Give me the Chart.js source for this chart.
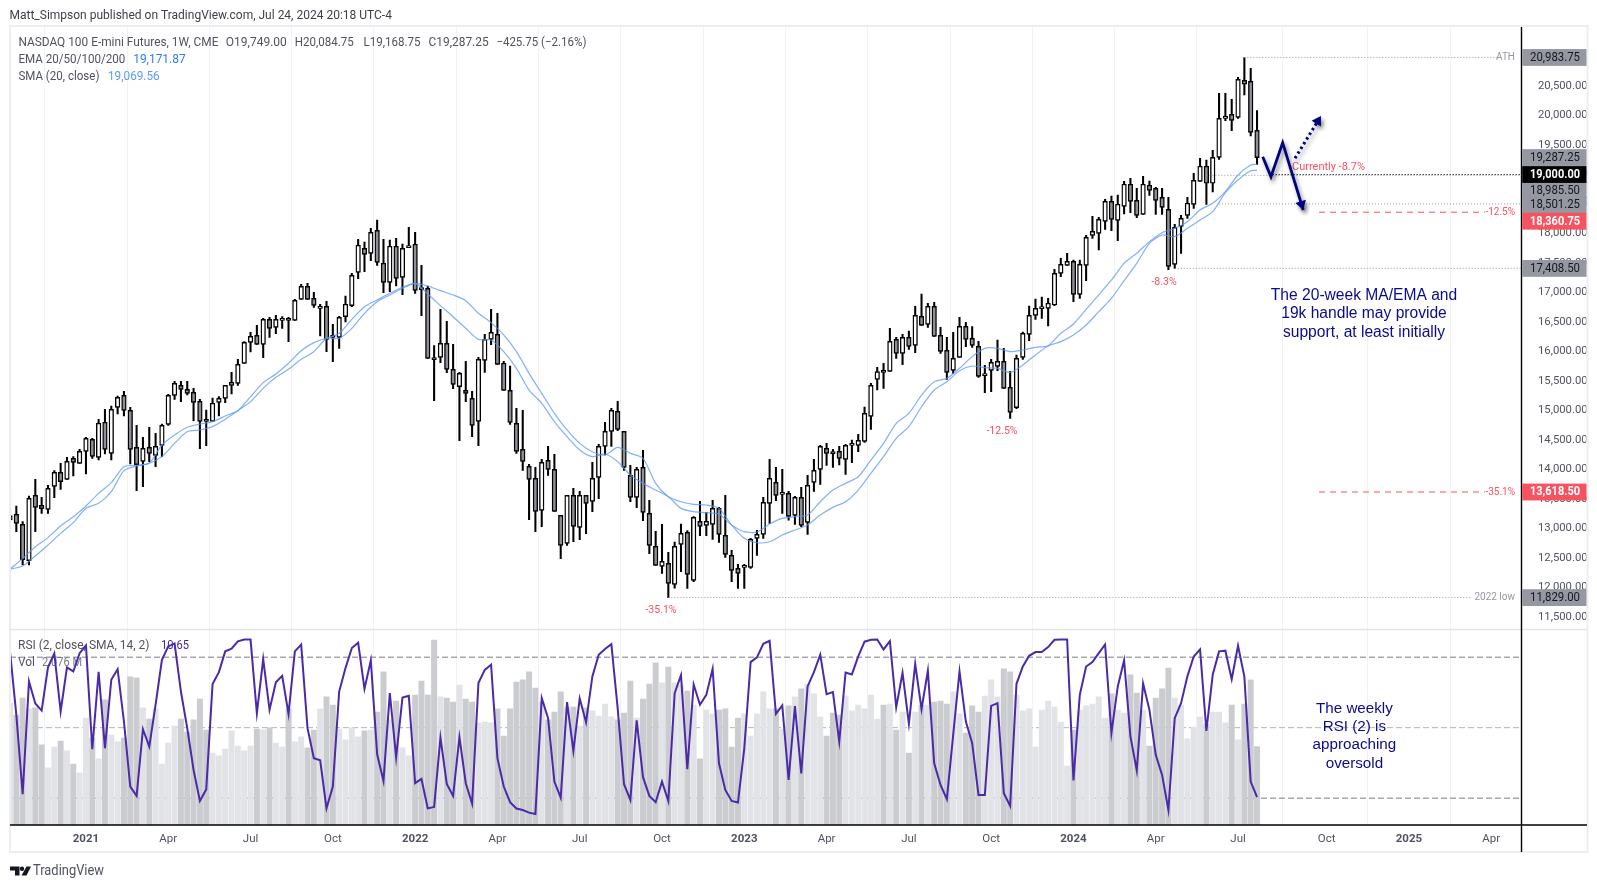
<!DOCTYPE html>
<html><head><meta charset="utf-8">
<style>html,body{margin:0;padding:0;background:#fff}canvas{display:block}</style>
<script src="https://cdn.jsdelivr.net/npm/chart.js@4"></script>
</head><body><canvas id="c" width="1597" height="888"></canvas>
<script>
// weekly bars, index 0 = week of 12 Oct 2020, index 197 = week of 22 Jul 2024
const opens=[13144,13240,13070,12455,13562,13393,13325,13715,13952,13833,14189,14105,14308,14511,14206,14800,14274,15054,15257,15003,14376,14138,14376,14240,14410,14766,15257,15427,15359,15308,15155,14833,14816,15138,15206,15427,15460,15800,16155,16274,16122,16545,16410,16528,16562,16528,16884,17105,16901,16732,16766,16257,16240,16590,16777,17342,17749,17664,18054,17495,17172,17783,17257,17760,17817,17054,17071,15879,15901,16138,15698,15404,15342,15206,14816,15850,16206,16291,15800,15342,14782,14342,14054,13850,13308,14155,14003,13223,12748,13562,13020,13562,13460,13867,14393,14647,14986,14647,13901,13528,14037,13257,12698,12358,12409,12053,12731,12934,12121,13121,13053,13070,13341,12884,12545,12324,12341,12341,12833,12900,13426,13782,13578,13595,13223,13528,13104,13782,14002,14358,14279,14307,14172,14409,14409,14477,14901,15528,15680,15663,16206,15968,16240,16104,16596,16460,16765,16274,16019,15680,15901,16426,16223,16087,15590,15681,15749,15833,15393,15048,15901,16291,16613,16726,16732,16788,17325,17461,17528,16969,17461,17969,18003,18206,18545,18223,18461,18834,18562,18325,18817,18766,18613,18410,17477,18122,18308,18495,18884,19139,18851,19291,19952,20020,19969,20596,20579,19749];
const highs=[13681,13381,13116,13551,13833,13528,13732,13980,14105,14206,14217,14342,14545,14528,14850,15020,15076,15246,15325,15054,14749,14545,14715,14613,14771,15274,15494,15494,15494,15376,15189,15008,15212,15234,15427,15647,15867,16167,16325,16444,16562,16579,16613,16590,16579,16884,17139,17155,17003,16800,16850,16461,16596,16941,17325,17901,17856,18088,18229,17901,17890,17918,17822,18105,18020,17461,17110,16099,16715,16511,16122,15647,15833,15325,15901,16291,16715,16647,15833,15754,15037,15003,14088,14037,14172,14393,14257,13223,13562,13681,13630,13562,14121,14427,14799,15037,15155,14647,14071,14037,14325,13477,12952,13070,12596,12771,13076,12963,13200,13460,13273,13477,13358,13562,12629,12392,12392,12833,12968,13528,14172,14036,14002,13629,13545,13697,13901,14172,14409,14443,14341,14392,14426,14499,14595,15059,15460,15731,15799,16392,16240,16291,16347,16765,16974,16816,16833,16409,16240,16324,16579,16494,16421,16172,15765,15867,16195,16054,15664,15941,16331,16771,16890,16924,16901,17393,17579,17664,17551,17551,17969,18291,18274,18579,18636,18653,18884,18935,18766,18969,18890,18783,18766,18613,18155,18308,18613,19020,19274,19246,19410,20376,20376,20274,20647,20983.75,20800,20084.75];
const lows=[13133,12946,12381,12381,12946,13257,13257,13522,13664,13833,13890,14105,13924,14189,14161,14263,14161,14941,14907,14093,13641,13709,14133,14048,14217,14749,15189,15150,15263,14828,14353,14404,14816,14907,15133,15280,15427,15800,15992,16122,15896,16240,16302,16393,16167,16528,16884,16884,16749,16263,15997,15828,16054,16500,16760,17235,17353,17540,17461,16997,17014,17110,16963,17760,16986,16607,15884,15167,15811,15641,15370,14489,15150,14557,14404,15647,16116,15783,15342,14765,14274,13986,13150,12946,13031,13901,13291,12489,12715,12777,12810,12912,13285,13506,14246,14393,14658,13986,13455,13353,13133,12573,12376,12240,11829,11990,12268,11985,12098,12878,12878,12816,12765,12511,12098,11985,11985,12324,12545,12833,13087,13471,13256,13143,13070,13030,12900,13629,13748,14070,14036,14076,13917,14115,14302,14460,14680,15347,15375,15663,15884,15776,16036,15980,16443,16409,16257,15968,15528,15629,15901,16081,16070,15562,15302,15319,15675,15376,14867,15031,15867,16184,16545,16562,16432,16777,17268,17461,16845,16901,17201,17918,17720,18071,18048,17879,18331,18353,18269,18325,18647,18325,18325,17387,17408.5,17664,18257,18427,18884,18495,18704,19257,19913,19743,19952,20348,19653,19168.75];
const closes=[13217,13088,12472,13511,13359,13336,13681,13952,13794,14138,14121,14308,14528,14223,14783,14342,15020,15223,15003,14342,14082,14359,14274,14393,14749,15257,15460,15359,15291,15138,14816,14816,15122,15206,15427,15477,15782,16155,16257,16122,16545,16393,16545,16562,16528,16867,17105,16884,16783,16766,16206,16240,16579,16800,17291,17800,17647,18020,17511,17172,17783,17240,17749,17771,17037,17048,15884,15862,16138,15698,15444,15630,15291,14749,15867,16206,16325,15783,15342,14799,14308,14138,13833,13291,14121,14003,13291,12715,13562,13037,13562,13426,13850,14393,14647,15003,14681,14037,13528,14003,13274,12715,12376,12443,12070,12697,12917,12223,13189,13036,13121,13341,12900,12562,12290,12240,12352,12816,12900,13443,13850,13562,13612,13206,13528,13053,13731,13985,14392,14273,14268,14189,14409,14415,14494,14951,15426,15658,15646,16172,15968,16240,16087,16613,16443,16765,16257,16002,15646,15884,16426,16206,16104,15579,15601,15816,15833,15376,14969,15884,16308,16613,16732,16737,16817,17325,17477,17528,16969,17477,17935,18037,18240,18545,18240,18495,18834,18545,18308,18834,18732,18562,18444,17444,18105,18257,18512,18901,19139,18851,19291,19952,19986,19918,20613,20529,19715,19287.25];
const volumes=[3.22,2.91,3.36,3.07,3.10,2.12,1.51,2.06,2.22,1.96,1.61,1.38,2.83,2.30,1.75,3.31,2.38,2.20,2.30,3.92,3.89,3.10,2.80,3.07,1.61,2.17,2.62,2.80,2.46,2.78,3.33,2.51,1.90,1.83,2.01,2.49,2.09,1.96,2.09,2.54,2.52,2.57,2.17,2.06,3.07,2.20,2.33,2.04,2.51,3.07,3.39,3.17,2.54,2.25,2.57,2.33,2.49,2.51,2.99,4.05,2.78,3.28,2.04,1.83,3.44,3.81,3.44,4.89,3.39,3.36,3.25,3.70,3.33,3.25,2.70,2.72,2.70,3.07,2.35,3.07,3.78,3.84,4.05,3.62,3.25,2.78,2.99,3.52,3.12,3.12,2.62,3.10,3.02,2.88,3.20,2.86,2.78,2.96,3.81,2.83,3.33,3.73,4.29,3.76,4.18,3.76,3.70,3.54,3.17,1.75,3.04,2.94,3.04,3.07,2.06,2.83,2.94,2.35,2.94,3.52,3.07,3.07,2.54,3.15,3.39,3.60,3.73,3.47,2.86,2.35,2.96,2.91,3.41,3.02,3.17,3.07,3.44,2.80,3.17,3.20,2.51,2.99,1.90,2.99,3.17,3.17,3.25,3.28,3.20,3.52,2.94,2.43,3.15,2.99,3.41,3.84,3.39,4.13,4.05,3.44,3.02,3.07,2.06,3.04,3.28,3.12,2.72,1.56,2.51,3.04,3.15,3.20,3.39,2.83,3.47,3.04,2.96,3.97,3.49,3.04,2.09,3.36,3.60,4.15,3.36,3.17,2.28,2.59,2.86,2.67,2.99,2.99,2.70,3.17,2.25,3.20,3.84,2.076];
const rsi=[93.3,57.3,12.2,76.2,63.7,59.7,84.2,92.1,59.2,84.2,81.9,92.3,96.7,37.8,81.7,38.3,77.2,83.2,53.5,16.6,11.3,49.1,39.3,63,88.5,96.1,97.8,70.5,49.7,26,8.4,15,74.7,81.5,93.3,94.8,99,100,100,58.2,88.9,60.1,75.8,79.4,57.8,93.3,97.1,49.7,32.7,31.5,4.2,16.6,70.5,83.8,95.2,98.2,72,88.2,34.9,19.8,69.6,33.2,67.1,68.1,18.5,20.9,4.2,5,44.4,18.1,11.3,44.6,18.5,6.9,75.3,82.8,85.7,32.7,16.6,7.7,4.1,3.3,1.8,1,66.8,55.4,19.4,10.3,64.5,36.8,66.6,53.1,79.1,91.4,94.6,97.4,61,17.9,9,54.2,21.9,11.3,7.7,19.4,8.4,69.6,79.8,26.4,74.5,63,68.6,83.4,29.8,14.7,8.4,7.5,38.3,87.2,89.9,97.6,99.3,57.8,62.6,20.3,62.2,24.1,73.4,81.5,91.4,69,70.2,42.1,81.3,80.2,90.4,98.8,99.9,100,94.4,99.1,61.6,81.1,52.2,86.1,60.5,82.3,29.8,17.5,9.4,45.9,81.9,53.5,41.2,11.8,11.8,62.4,63.9,12.8,5.6,74.9,84.7,90.8,92.9,92.9,95.7,99.9,100,100,20,68.6,84.7,87.2,92.3,97.2,46.9,73.4,88.2,45,25.7,75.1,60.1,34.6,23.2,3.3,55.4,63.9,79.1,90.4,94.4,48.2,80,93.3,93.7,77.5,96.5,79,19.4,10.65];
// moving averages read every second week, last point is the final week
const maWeeks=[0,2,4,6,8,10,12,14,16,18,20,22,24,26,28,30,32,34,36,38,40,42,44,46,48,50,52,54,56,58,60,62,64,66,68,70,72,74,76,78,80,82,84,86,88,90,92,94,96,98,100,102,104,106,108,110,112,114,116,118,120,122,124,126,128,130,132,134,136,138,140,142,144,146,148,150,152,154,156,158,160,162,164,166,168,170,172,174,176,178,180,182,184,186,188,190,192,194,196,197];
const ema20=[12308,12494,12692,12845,13042,13200,13381,13596,13777,14048,14071,14105,14415,14585,14715,14771,14811,14907,14997,15234,15472,15619,15800,16014,16150,16229,16308,16545,16760,16873,16986,17088,17155,16975,16777,16590,16393,16206,16195,15997,15715,15347,15122,14811,14556,14330,14217,14263,14133,13907,13765,13652,13539,13341,13285,13268,13245,13059,12946,12940,13076,13172,13200,13228,13454,13652,13765,13878,14160,14443,14782,14951,15262,15488,15545,15715,15913,16054,16054,15997,16025,16071,16099,16308,16466,16715,16958,17212,17495,17664,17862,18014,18088,18201,18398,18512,18710,18992,19161,19171.87];
const sma20=[12308,12364,12534,12720,12918,13099,13342,13426,13624,13980,14059,14105,14218,14443,14641,14670,14726,14850,14997,15150,15376,15562,15698,15867,15997,16218,16223,16393,16647,16845,16958,17071,17155,17110,17031,16958,16862,16647,16489,16280,15997,15630,15291,14952,14670,14443,14302,14246,14376,14274,14189,13765,13539,13454,13409,13398,13341,13059,12833,12759,12776,12889,12974,13059,13228,13358,13454,13652,13935,14217,14528,14725,15064,15347,15488,15675,15754,15726,15715,15647,15771,15941,16093,16167,16280,16449,16675,16901,17201,17495,17834,17975,17946,18088,18229,18370,18692,18907,19065,19069.56];
// axis ticks
const xTickWeeks=[12,25,38,51,64,77,90,103,116,129,142,155,168,181,194,208,221,234];
const xTickLabels=['2021','Apr','Jul','Oct','2022','Apr','Jul','Oct','2023','Apr','Jul','Oct','2024','Apr','Jul','Oct','2025','Apr'];
const priceTicks=[11500,12000,12500,13000,13500,14000,14500,15000,15500,16000,16500,17000,17500,18000,18500,19000,19500,20000,20500];
const rsiTicks=[0,20,40,60,80,100];
const rsiLevels=[90,50,10];
// price labels on the axis: value, kind, label nudge along axis
const boxValues=[20983.75,19287.25,18985.50,18501.25,17408.50,11829,19000,18360.75,13618.50];
const boxKinds=['g','g','g','g','g','g','k','r','r'];
const boxNudge=[0,0,15,1,0,0,0,9,0];
// horizontal reference lines
const dotValues=[20983.75,18985.50,18501.25,17408.50,11829,19000];
const dotStart=[195,189,191,184,104,199];
const dotEnd=[234.9,238.8,238.8,238.8,230.7,238.8];
const dotColor=['#9598a1','#9598a1','#9598a1','#9598a1','#9598a1','#000'];
const dashValues=[18360.75,13618.50];
const dashEnd=[233,233];
const arrowWeeks=[197.9,199.2,201.05,204.3];
const arrowPrices=[19302,18963,19539,18398];
const dotArrowWeeks=[203,207.1];
const dotArrowPrices=[19275,19992];

const FONT='Roboto, sans-serif';
const weeks=opens.map((_,i)=>i);
const up=opens.map((o,i)=>closes[i]>=o);
const fmt=v=>v.toLocaleString('en-US',{minimumFractionDigits:2,maximumFractionDigits:2});

function T(c,s,x,y,o={}){c.font=(o.w||'')+' '+(o.s||12)+'px '+(o.f||FONT);c.fillStyle=o.c||'#50535e';c.textAlign=o.a||'left';c.textBaseline='middle';if(o.m)c.fillText(s,x,y,o.m);else c.fillText(s,x,y);}
function line(c,x0,y0,x1,y1,col,w,dash){c.save();c.beginPath();c.strokeStyle=col;c.lineWidth=w;c.setLineDash(dash||[]);c.moveTo(x0,y0);c.lineTo(x1,y1);c.stroke();c.restore();}

const below={id:'below',beforeDatasetsDraw(ch){
  const c=ch.ctx,{x,yR}=ch.scales,a=ch.chartArea;
  rsiLevels.forEach(v=>line(c,a.left,yR.getPixelForValue(v),a.right,yR.getPixelForValue(v),v===50?'#b2b5be':'#787b86',1,[6,3]));
  T(c,'RSI (2, close, SMA, 14, 2)',18,646,{m:133});T(c,'10.65',161,646,{c:'#4527a0',m:28});
  T(c,'Vol',18,663,{m:17});T(c,'2.076 M',42,663,{c:'#787b86',m:40});
}};
const over={id:'over',afterDraw(ch){
  const c=ch.ctx,{x,y,yR}=ch.scales,a=ch.chartArea;
  // frame
  c.save();c.strokeStyle='#eceef2';c.lineWidth=2;c.strokeRect(10,26,1577.5,826);c.restore();
  line(c,10,629.5,1587,629.5,'#e4e5ea',1.5);
  line(c,10,825,1587,825,'#000',1.4);
  line(c,a.right,27,a.right,852,'#000',1.4);
  // dotted + dashed reference lines
  dotValues.forEach((v,i)=>line(c,x.getPixelForValue(dotStart[i]),y.getPixelForValue(v),x.getPixelForValue(dotEnd[i]),y.getPixelForValue(v),dotColor[i],1,[1,2]));
  dashValues.forEach((v,i)=>line(c,1319,y.getPixelForValue(v),x.getPixelForValue(dashEnd[i]),y.getPixelForValue(v),'#f7525f',1,[6,5]));
  const g='#9598a1',r='#f7525f';
  T(c,'ATH',1515,y.getPixelForValue(20983.75),{a:'right',c:g,s:10});
  T(c,'2022 low',1515,y.getPixelForValue(11829),{a:'right',c:g,s:10});
  T(c,'-12.5%',1515,y.getPixelForValue(18360.75),{a:'right',c:r,s:10});
  T(c,'-35.1%',1515,y.getPixelForValue(13618.5),{a:'right',c:r,s:10});
  T(c,'Currently -8.7%',1292,167,{c:r,s:11.5,m:73});
  T(c,'-35.1%',661,610,{a:'center',c:r,s:10.5});
  T(c,'-12.5%',1002,431,{a:'center',c:r,s:10.5});
  T(c,'-8.3%',1164,282,{a:'center',c:r,s:10.5});
  // arrows
  c.save();c.shadowColor='rgba(0,0,0,.45)';c.shadowBlur=4;c.shadowOffsetX=2;c.shadowOffsetY=3;
  const navy='#000080';
  const pts=arrowWeeks.map((w,i)=>[x.getPixelForValue(w),y.getPixelForValue(arrowPrices[i])]);
  c.beginPath();pts.forEach((p,i)=>i?c.lineTo(p[0],p[1]):c.moveTo(p[0],p[1]));c.strokeStyle=navy;c.lineWidth=2.8;c.lineJoin='miter';c.stroke();
  const head=(a,b)=>{const t=Math.atan2(b[1]-a[1],b[0]-a[0]),L=9,W=5.5;c.beginPath();c.moveTo(b[0],b[1]);c.lineTo(b[0]-L*Math.cos(t)+W*Math.sin(t),b[1]-L*Math.sin(t)-W*Math.cos(t));c.lineTo(b[0]-L*Math.cos(t)-W*Math.sin(t),b[1]-L*Math.sin(t)+W*Math.cos(t));c.closePath();c.fillStyle=navy;c.fill();};
  head(pts[2],pts[3]);
  const dp=dotArrowWeeks.map((w,i)=>[x.getPixelForValue(w),y.getPixelForValue(dotArrowPrices[i])]);
  c.beginPath();c.moveTo(dp[0][0],dp[0][1]);c.lineTo(dp[1][0],dp[1][1]);c.setLineDash([2.5,3]);c.lineWidth=3;c.stroke();c.setLineDash([]);
  head(dp[0],dp[1]);
  c.restore();
  // notes
  const nf='"Liberation Sans"',nc='#0a0a8c';
  ['The 20-week MA/EMA and','19k handle may provide','support, at least initially'].forEach((s,i)=>T(c,s,1364,295.5+18.4*i,{a:'center',s:15.6,f:nf,c:nc}));
  ['The weekly','RSI (2) is','approaching','oversold'].forEach((s,i)=>T(c,s,1354.4,708.5+18.3*i,{a:'center',s:15.2,f:nf,c:nc}));
  // axis price boxes
  boxValues.forEach((v,i)=>{
    const k=boxKinds[i],py=y.getPixelForValue(v)+boxNudge[i];
    c.fillStyle=k==='g'?'#9598a1':k==='k'?'#000':'#f7525f';
    c.fillRect(a.right+0.7,py-8.4,1586.5-a.right-0.7,16.8);
    T(c,fmt(v),1530,py+0.3,{c:k==='g'?'#131722':'#fff',w:k==='g'?'':'bold',m:50});
  });
  // header
  T(c,'Matt_Simpson published on TradingView.com, Jul 24, 2024 20:18 UTC-4',9.5,15.5,{c:'#3c3f48',m:384});
  T(c,'NASDAQ 100 E-mini Futures, 1W, CME',18.4,42.5,{m:200});
  T(c,'O19,749.00',225.8,42.5,{m:61});T(c,'H20,084.75',294.7,42.5,{m:59});T(c,'L19,168.75',363.6,42.5,{m:57});T(c,'C19,287.25',428.6,42.5,{m:60});T(c,'\u2212425.75 (\u22122.16%)',496.4,42.5,{m:90});
  T(c,'EMA 20/50/100/200',18.4,59.5,{m:107});T(c,'19,171.87',133.2,59.5,{c:'#2f7cf6',m:52.4});
  T(c,'SMA (20, close)',18.4,76.5,{m:81});T(c,'19,069.56',108,76.5,{c:'#5b9cf6',m:51.7});
  // brand
  c.save();c.fillStyle='#131722';
  c.beginPath();c.moveTo(10,866.5);c.lineTo(19.5,866.5);c.lineTo(19.5,875.5);c.lineTo(15,875.5);c.lineTo(15,870.5);c.lineTo(10,870.5);c.closePath();c.fill();
  c.beginPath();c.arc(22,868.7,2.2,0,7);c.fill();
  c.beginPath();c.moveTo(26.5,866.5);c.lineTo(31,866.5);c.lineTo(26.5,875.5);c.lineTo(21.5,875.5);c.closePath();c.fill();
  c.restore();
  T(c,'TradingView',33,871.5,{s:14,c:'#50535e',m:71});
}};

new Chart(document.getElementById('c'),{
  data:{datasets:[
    {type:'bar',order:10,xAxisID:'x',yAxisID:'yV',grouped:false,barThickness:5.3,
     data:weeks.map(i=>({x:i,y:volumes[i]})),
     backgroundColor:weeks.map(i=>up[i]?'#e2e3e7':'#cbccd0')},
    {type:'line',order:3,xAxisID:'x',yAxisID:'yR',data:weeks.map(i=>({x:i,y:rsi[i]})),borderColor:'#4a2aa8',borderWidth:2,pointRadius:0,tension:0},
    {type:'bar',order:6,xAxisID:'x',yAxisID:'y',grouped:false,barThickness:1.4,
     data:weeks.map(i=>({x:i,y:[lows[i],highs[i]]})),backgroundColor:'#000'},
    {type:'bar',order:5,xAxisID:'x',yAxisID:'y',grouped:false,barThickness:4.6,
     data:weeks.map(i=>({x:i,y:[opens[i],closes[i]]})),
     backgroundColor:weeks.map(i=>up[i]?'#fff':'#8e9097'),borderColor:'#000',borderWidth:1.4,borderSkipped:false,minBarLength:2},
    {type:'line',order:2,xAxisID:'x',yAxisID:'y',data:maWeeks.map((w,i)=>({x:w,y:ema20[i]})),borderColor:'rgba(90,150,245,.75)',borderWidth:1.2,pointRadius:0,tension:.25},
    {type:'line',order:1,xAxisID:'x',yAxisID:'y',data:maWeeks.map((w,i)=>({x:w,y:sma20[i]})),borderColor:'rgba(90,150,245,.75)',borderWidth:1.2,pointRadius:0,tension:.25}
  ]},
  options:{
    responsive:false,animation:false,devicePixelRatio:1,events:[],
    layout:{padding:{left:10,top:27,right:10.5,bottom:36}},
    plugins:{legend:{display:false},tooltip:{enabled:false}},
    scales:{
      x:{type:'linear',position:'bottom',offset:false,min:0,max:238.78,
        afterBuildTicks(s){s.ticks=xTickWeeks.map(v=>({value:v}));},
        afterFit(s){s.height=27;},
        grid:{color:'#f1f2f5',lineWidth:1,drawTicks:false},border:{display:false},
        ticks:{autoSkip:false,maxRotation:0,padding:7,color:'#50535e',
          callback:v=>xTickLabels[xTickWeeks.indexOf(v)],
          font:ctx=>{const l=xTickLabels[ctx.index]||'';return {family:FONT,size:11.5,weight:/^\d/.test(l)?'bold':'normal'};}}},
      yR:{type:'linear',position:'right',weight:-1,min:-5.23,max:447.6,
        afterBuildTicks(s){s.ticks=rsiTicks.map(v=>({value:v}));},
        afterFit(s){s.width=0;},
        grid:{display:false},border:{display:false},
        ticks:{padding:8.5,color:'#50535e',font:{family:FONT,size:11.3},autoSkip:false,callback:v=>v.toFixed(2)}},
      y:{type:'linear',position:'right',weight:0,min:7974.6,max:21500,
        afterBuildTicks(s){s.ticks=priceTicks.map(v=>({value:v}));},
        afterFit(s){s.width=65;},
        grid:{display:false},border:{display:false},
        ticks:{padding:8.5,color:'#50535e',font:{family:FONT,size:11.3},autoSkip:false,callback:v=>fmt(v)}},
      yV:{type:'linear',display:false,min:0,max:21.11}
    }
  },
  plugins:[below,over]
});
</script></body></html>
